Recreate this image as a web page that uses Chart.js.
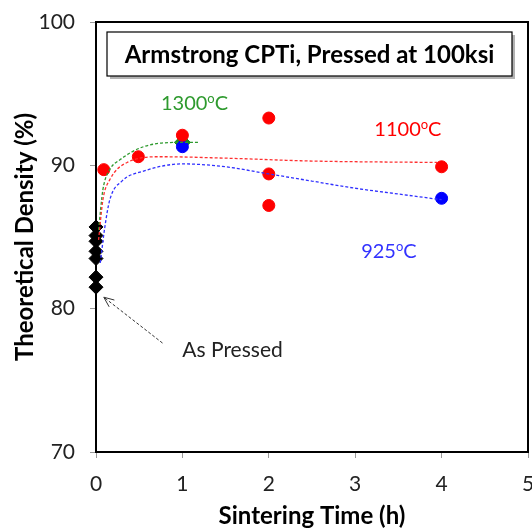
<!DOCTYPE html>
<html>
<head>
<meta charset="utf-8">
<script src="https://cdn.jsdelivr.net/npm/chart.js@4/dist/chart.umd.min.js"></script>
<style>
  html, body { margin: 0; padding: 0; background: #fff; overflow: hidden; }
  #wrap { width: 532px; height: 531px; overflow: hidden; }
</style>
</head>
<body>
<div id="wrap"><canvas id="densityChart" width="537" height="531"></canvas></div>
<script>
  // measured points
  const red1100X = [0.09, 0.49, 1, 2, 2, 2, 4];
  const red1100Y = [89.7, 90.6, 92.1, 93.3, 89.4, 87.2, 89.9];
  const blue925X = [1, 4];
  const blue925Y = [91.3, 87.7];
  const green1300X = [1];
  const green1300Y = [91.6];
  const pressedX = [0, 0, 0, 0, 0, 0, 0];
  const pressedY = [85.7, 85.1, 84.7, 84.0, 83.5, 82.2, 81.5];

  // trend lines
  const redFitX = [0.03, 0.08, 0.16, 0.36, 0.75, 1.5, 2.5, 3.95];
  const redFitY = [84.8, 87.6, 89.0, 90.2, 90.6, 90.5, 90.3, 90.2];
  const blueFitX = [0.05, 0.1, 0.16, 0.3, 0.55, 1.0, 1.5, 2.0, 2.5, 3.0, 3.5, 4.0];
  const blueFitY = [83.2, 85.6, 87.6, 88.9, 89.6, 90.1, 89.9, 89.4, 88.9, 88.4, 88.0, 87.6];
  const greenFitX = [0.03, 0.08, 0.16, 0.28, 0.55, 1.0, 1.2];
  const greenFitY = [85.5, 88.3, 89.7, 90.4, 91.3, 91.6, 91.6];

  const xTicks = [0, 1, 2, 3, 4, 5];
  const yTicks = [70, 80, 90, 100];

  const fontFam = 'Lato, "Open Sans", sans-serif';

  function pts(xs, ys) {
    return xs.map(function(x, i) { return { x: x, y: ys[i] }; });
  }

  function fitLine(xs, ys, color) {
    return {
      type: 'line',
      data: pts(xs, ys),
      borderColor: color,
      borderWidth: 1.3,
      borderDash: [3, 2],
      pointRadius: 0,
      cubicInterpolationMode: 'monotone',
      fill: false
    };
  }

  const extras = {
    id: 'extras',
    afterDraw: function(chart) {
      const ctx = chart.ctx;
      const a = chart.chartArea;
      const xs = chart.scales.x;
      const ys = chart.scales.y;
      ctx.save();

      // frame top / right
      ctx.strokeStyle = '#000';
      ctx.lineWidth = 2;
      ctx.beginPath();
      ctx.moveTo(a.left, a.top);
      ctx.lineTo(a.right, a.top);
      ctx.lineTo(a.right, a.bottom);
      ctx.stroke();

      // title box
      const bx = a.left + 11, by = a.top + 10, bw = 405, bh = 44;
      ctx.fillStyle = 'rgba(0,0,0,0.3)';
      ctx.fillRect(bx + 3, by + 3, bw, bh);
      ctx.fillStyle = '#fff';
      ctx.fillRect(bx, by, bw, bh);
      ctx.strokeStyle = '#000';
      ctx.lineWidth = 1.2;
      ctx.strokeRect(bx, by, bw, bh);
      ctx.fillStyle = '#000';
      ctx.font = 'bold 24px ' + fontFam;
      ctx.textAlign = 'center';
      ctx.textBaseline = 'middle';
      ctx.fillText('Armstrong CPTi, Pressed at 100ksi', bx + bw / 2, by + bh / 2 + 1);

      // temperature labels
      function tempLabel(num, x, y, color) {
        ctx.font = '20px ' + fontFam;
        const w1 = ctx.measureText(num).width;
        ctx.font = '13px ' + fontFam;
        const w2 = ctx.measureText('o').width;
        ctx.font = '20px ' + fontFam;
        const w3 = ctx.measureText('C').width;
        let px = xs.getPixelForValue(x) - (w1 + w2 + w3) / 2;
        const py = ys.getPixelForValue(y);
        ctx.fillStyle = color;
        ctx.textAlign = 'left';
        ctx.textBaseline = 'middle';
        ctx.fillText(num, px, py);
        px += w1;
        ctx.font = '13px ' + fontFam;
        ctx.fillText('o', px, py - 5);
        px += w2;
        ctx.font = '20px ' + fontFam;
        ctx.fillText('C', px, py);
      }
      tempLabel('1300', 1.14, 94.3, '#2e9a2e');
      tempLabel('1100', 3.61, 92.5, '#ff0000');
      tempLabel('925', 3.39, 84.0, '#3333ff');

      // As Pressed annotation
      ctx.fillStyle = '#222';
      ctx.font = '21px ' + fontFam;
      ctx.textAlign = 'center';
      ctx.textBaseline = 'middle';
      ctx.fillText('As Pressed', xs.getPixelForValue(1.58), ys.getPixelForValue(77.1));

      const tx = xs.getPixelForValue(0.09), ty = ys.getPixelForValue(80.8);
      const sx = xs.getPixelForValue(0.77), sy = ys.getPixelForValue(77.6);
      ctx.strokeStyle = '#333';
      ctx.lineWidth = 1;
      ctx.setLineDash([3, 2]);
      ctx.beginPath();
      ctx.moveTo(sx, sy);
      ctx.lineTo(tx, ty);
      ctx.stroke();
      ctx.setLineDash([]);
      const ang = Math.atan2(ty - sy, tx - sx);
      ctx.beginPath();
      ctx.moveTo(tx - 11 * Math.cos(ang - 0.4), ty - 11 * Math.sin(ang - 0.4));
      ctx.lineTo(tx, ty);
      ctx.lineTo(tx - 11 * Math.cos(ang + 0.4), ty - 11 * Math.sin(ang + 0.4));
      ctx.stroke();

      ctx.restore();
    }
  };

  new Chart(document.getElementById('densityChart'), {
    type: 'scatter',
    data: {
      datasets: [
        fitLine(redFitX, redFitY, '#ff3030'),
        fitLine(blueFitX, blueFitY, '#3030ff'),
        fitLine(greenFitX, greenFitY, '#2e9a2e'),
        {
          data: pts(red1100X, red1100Y),
          backgroundColor: '#ff0000',
          borderColor: '#ff0000',
          pointRadius: 6,
          pointStyle: 'circle'
        },
        {
          data: pts(blue925X, blue925Y),
          backgroundColor: '#0000ff',
          borderColor: '#0000ff',
          pointRadius: 6,
          pointStyle: 'circle'
        },
        {
          data: pts(green1300X, green1300Y),
          backgroundColor: '#1a8a1a',
          borderColor: '#1a8a1a',
          pointRadius: 8,
          pointStyle: 'rectRot'
        },
        {
          data: pts(pressedX, pressedY),
          backgroundColor: '#000',
          borderColor: '#000',
          pointRadius: 7,
          pointStyle: 'rectRot',
          clip: false
        }
      ]
    },
    options: {
      responsive: false,
      animation: false,
      layout: { padding: { top: 22, right: 0, left: 0, bottom: 0 } },
      plugins: {
        legend: { display: false },
        tooltip: { enabled: false }
      },
      scales: {
        x: {
          type: 'linear',
          min: 0,
          max: 5,
          afterBuildTicks: function(s) { s.ticks = xTicks.map(function(v) { return { value: v }; }); },
          afterFit: function(s) { s.height = 79; s.paddingLeft = 0; s.paddingRight = 0; },
          border: { display: true, color: '#000', width: 2 },
          grid: { display: true, drawOnChartArea: false, drawTicks: true, tickLength: 6, color: '#999' },
          ticks: { color: '#222', font: { family: fontFam, size: 21 }, padding: 14 },
          title: { display: true, text: 'Sintering Time (h)', color: '#000', font: { family: fontFam, size: 24, weight: 'bold' }, padding: { top: 0, bottom: 0 } }
        },
        y: {
          type: 'linear',
          min: 70,
          max: 100,
          afterBuildTicks: function(s) { s.ticks = yTicks.map(function(v) { return { value: v }; }); },
          afterFit: function(s) { s.width = 96; s.paddingTop = 0; s.paddingBottom = 0; },
          border: { display: true, color: '#000', width: 2 },
          grid: { display: true, drawOnChartArea: false, drawTicks: true, tickLength: 6, color: '#999' },
          ticks: { color: '#222', font: { family: fontFam, size: 21 }, padding: 15 },
          title: { display: true, text: 'Theoretical Density (%)', color: '#000', font: { family: fontFam, size: 24, weight: 'bold' }, padding: { top: 11, bottom: 0 } }
        }
      }
    },
    plugins: [extras]
  });
</script>
</body>
</html>
